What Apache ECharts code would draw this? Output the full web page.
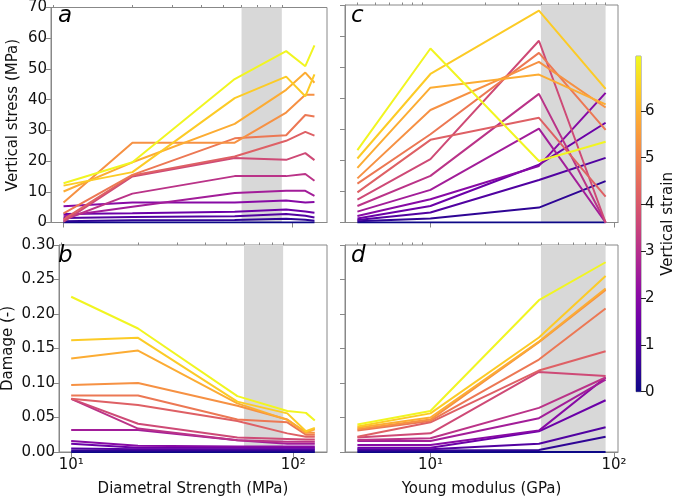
<!DOCTYPE html>
<html>
<head>
<meta charset="utf-8">
<script src="https://cdn.jsdelivr.net/npm/echarts@6/dist/echarts.min.js"></script>
<style>
  html, body { margin: 0; padding: 0; background: #fff; }
  #chart { width: 677px; height: 498px; }
</style>
</head>
<body>
<div id="chart"></div>
<script>
// strain level of each line (colour), lowest first
const strainLevels = [0.0, 0.45, 1.0, 1.45, 2.0, 2.55, 3.1, 3.65, 4.2, 4.75, 5.3, 5.85, 6.4, 7.1];

const strengthX = [10, 20, 56, 94, 114, 125];
const youngX = [4, 10, 39, 90];

// panel a: vertical stress vs diametral strength
const stressVsStrength = [
  [0, 0, 0, 0, 0, 0],
  [0.4, 0.7, 0.8, 1.2, 0.9, 0.6],
  [1.5, 1.8, 2.0, 2.8, 2.2, 1.6],
  [2.8, 3.0, 3.5, 4.2, 3.6, 3.2],
  [5.3, 6.5, 6.5, 7.2, 6.5, 6.7],
  [2.0, 5.1, 9.6, 10.3, 10.3, 8.7],
  [0.8, 9.4, 15.1, 15.1, 15.8, 13.6],
  [0.3, 15.0, 21.0, 20.4, 22.6, 20.3],
  [1.0, 15.3, 21.5, 26.6, 29.5, 28.3],
  [3.0, 15.5, 27.4, 28.4, 35.0, 34.5],
  [6.5, 26.0, 26.0, 35.8, 41.6, 41.6],
  [10.1, 19.6, 32.1, 43.2, 48.8, 45.5],
  [12.0, 16.4, 40.5, 47.5, 41.1, 48.2],
  [12.8, 19.6, 46.7, 55.8, 50.9, 57.7]
];
// panel b: damage vs diametral strength
const damageVsStrength = [
  [0, 0, 0, 0, 0, 0],
  [0.002, 0.002, 0.002, 0.002, 0.002, 0.002],
  [0.005, 0.004, 0.004, 0.004, 0.004, 0.004],
  [0.012, 0.006, 0.006, 0.006, 0.006, 0.006],
  [0.016, 0.009, 0.008, 0.008, 0.008, 0.008],
  [0.032, 0.032, 0.017, 0.012, 0.012, 0.012],
  [0.077, 0.034, 0.017, 0.015, 0.015, 0.015],
  [0.077, 0.041, 0.021, 0.019, 0.018, 0.018],
  [0.077, 0.068, 0.045, 0.027, 0.022, 0.022],
  [0.082, 0.082, 0.047, 0.043, 0.025, 0.025],
  [0.097, 0.1, 0.067, 0.047, 0.028, 0.028],
  [0.1355, 0.147, 0.0705, 0.0466, 0.028, 0.033],
  [0.162, 0.1655, 0.073, 0.056, 0.03, 0.035],
  [0.225, 0.179, 0.081, 0.0595, 0.0567, 0.0456]
];
// panel c: vertical stress vs Young modulus
const stressVsYoung = [
  [0, 0, 0, 0],
  [0.4, 1.3, 4.8, 13.3],
  [0.8, 3.2, 13.7, 20.8],
  [1.3, 5.3, 18.6, 32.1],
  [2.1, 7.5, 18.2, 41.7],
  [3.5, 10.5, 30.2, 0],
  [5.3, 15, 41.4, 0],
  [7.4, 20.4, 58.5, 0],
  [9.7, 26.6, 33.7, 8.3],
  [12.5, 28.4, 54.6, 29.8],
  [14.2, 36.2, 51.7, 37],
  [17.6, 43.4, 47.6, 38],
  [20.6, 47.8, 68.2, 43],
  [23.3, 56, 19.8, 26]
];
// panel d: damage vs Young modulus
const damageVsYoung = [
  [0, 0, 0, 0],
  [0.002, 0.002, 0.003, 0.022],
  [0.004, 0.004, 0.012, 0.036],
  [0.006, 0.006, 0.03, 0.075],
  [0.01, 0.01, 0.031, 0.108],
  [0.016, 0.016, 0.049, 0.105],
  [0.0175, 0.02, 0.064, 0.108],
  [0.021, 0.027, 0.116, 0.11],
  [0.022, 0.043, 0.118, 0.146],
  [0.031, 0.045, 0.134, 0.208],
  [0.033, 0.047, 0.159, 0.235],
  [0.035, 0.05, 0.16, 0.237],
  [0.037, 0.056, 0.166, 0.255],
  [0.0397, 0.0595, 0.22, 0.275]
];

const strengthBand = [60, 90];
const youngBand = [40, 90];
const stressTicks = [0, 70, 10];
const damageTicks = [0, 0.3, 0.05];
const strainMax = 7.17;
const strainTickLabels = [0, 1, 2, 3, 4, 5, 6];

// matplotlib plasma
const plasmaStops = ['#0d0887', '#41049d', '#6a00a8', '#8f0da4', '#b12a90', '#cc4778',
  '#e16462', '#f2844b', '#fca636', '#fcce25', '#f0f921'];

function hexToRgb(h) {
  return [parseInt(h.slice(1, 3), 16), parseInt(h.slice(3, 5), 16), parseInt(h.slice(5, 7), 16)];
}
function plasma(t) {
  t = Math.max(0, Math.min(1, t));
  const pos = t * (plasmaStops.length - 1);
  const i = Math.min(Math.floor(pos), plasmaStops.length - 2);
  const f = pos - i;
  const a = hexToRgb(plasmaStops[i]), b = hexToRgb(plasmaStops[i + 1]);
  const c = a.map((v, k) => Math.round(v + (b[k] - v) * f));
  return 'rgb(' + c.join(',') + ')';
}

function logRange(lo, hi) {
  const a = Math.log10(lo), b = Math.log10(hi), m = (b - a) * 0.05;
  return [Math.pow(10, a - m), Math.pow(10, b + m)];
}
const strengthRange = logRange(strengthX[0], strengthX[strengthX.length - 1]);
const youngRange = logRange(youngX[0], youngX[youngX.length - 1]);

const FONT = 'DejaVu Sans';
const spine = '#888';
const labelStyle = { color: '#111', fontSize: 15, fontFamily: FONT };

const PX_PER_STRAIN = 46.8;
const grids = [
  { left: 51, top: 5, width: 276, height: 217.5 },
  { left: 51, top: 245, width: 276, height: 217 },
  { left: 345, top: 5, width: 273, height: 217.5 },
  { left: 345, top: 245, width: 273, height: 217 },
  { left: 636, top: 391.7 - strainMax * PX_PER_STRAIN, width: 14, height: strainMax * PX_PER_STRAIN }
].map(g => Object.assign({ show: true, borderColor: spine, borderWidth: 1, backgroundColor: 'transparent', containLabel: false }, g));

function minorValues(range) {
  const out = [];
  for (let d = 1; d <= 100; d *= 10) {
    for (let k = 2; k <= 9; k++) {
      const v = k * d;
      if (v > range[0] && v < range[1]) out.push(v);
    }
  }
  return out;
}

function logAxis(gridIndex, range, showLabels, name) {
  return {
    type: 'log', logBase: 10, gridIndex, min: range[0], max: range[1],
    axisLine: { show: true, lineStyle: { color: spine } },
    axisTick: { show: true, length: 5, customValues: [10, 100], lineStyle: { color: spine } },
    axisLabel: {
      show: showLabels, customValues: [10, 100], margin: 6,
      formatter: v => (Math.round(Math.log10(v)) === 1 ? '10\u00b9' : '10\u00b2'),
      ...labelStyle
    },
    splitLine: { show: false },
    name: name || '', nameLocation: 'middle', nameGap: 30,
    nameTextStyle: { color: '#111', fontSize: 15, fontFamily: FONT }
  };
}
function minorAxis(gridIndex, range) {
  return {
    type: 'log', logBase: 10, gridIndex, min: range[0], max: range[1],
    axisLine: { show: false },
    axisTick: { show: true, length: 2.5, customValues: minorValues(range), lineStyle: { color: spine } },
    axisLabel: { show: false },
    splitLine: { show: false }
  };
}
function valueAxis(gridIndex, ticks, showLabels, name, digits) {
  return {
    type: 'value', gridIndex, min: ticks[0], max: ticks[1], interval: ticks[2],
    axisLine: { show: true, lineStyle: { color: spine } },
    axisTick: { show: true, length: 5, lineStyle: { color: spine } },
    axisLabel: { show: showLabels, margin: 4, formatter: v => v.toFixed(digits), ...labelStyle },
    splitLine: { show: false },
    name: name || '', nameLocation: 'middle', nameGap: digits ? 43 : 30, nameRotate: 90,
    nameTextStyle: { color: '#111', fontSize: 15, fontFamily: FONT }
  };
}

const xAxes = [
  logAxis(0, strengthRange, false),
  logAxis(1, strengthRange, true, 'Diametral Strength (MPa)'),
  logAxis(2, youngRange, false),
  logAxis(3, youngRange, true, 'Young modulus (GPa)'),
  minorAxis(0, strengthRange),
  minorAxis(1, strengthRange),
  minorAxis(2, youngRange),
  minorAxis(3, youngRange),
  { type: 'category', gridIndex: 4, data: ['strain'], show: false }
];
const yAxes = [
  valueAxis(0, stressTicks, true, 'Vertical stress (MPa)', 0),
  valueAxis(1, damageTicks, true, 'Damage (-)', 2),
  valueAxis(2, stressTicks, false, '', 0),
  valueAxis(3, damageTicks, false, '', 2),
  {
    type: 'value', gridIndex: 4, position: 'right', min: 0, max: strainMax,
    axisLine: { show: false },
    axisTick: { show: true, length: 5, customValues: strainTickLabels, lineStyle: { color: '#222' } },
    axisLabel: { margin: 4, customValues: strainTickLabels, ...labelStyle },
    splitLine: { show: false },
    name: 'Vertical strain', nameLocation: 'middle', nameGap: 20, nameRotate: 90,
    nameTextStyle: { color: '#111', fontSize: 15, fontFamily: FONT }
  }
];

const panels = [
  { axis: 0, xs: strengthX, table: stressVsStrength, band: strengthBand },
  { axis: 1, xs: strengthX, table: damageVsStrength, band: strengthBand },
  { axis: 2, xs: youngX, table: stressVsYoung, band: youngBand },
  { axis: 3, xs: youngX, table: damageVsYoung, band: youngBand }
];

const series = [];
panels.forEach(p => {
  series.push({
    type: 'line', xAxisIndex: p.axis, yAxisIndex: p.axis, data: [], z: 1,
    silent: true, symbol: 'none',
    markArea: {
      silent: true, itemStyle: { color: '#d8d8d8' },
      data: [[{ xAxis: p.band[0] }, { xAxis: p.band[1] }]]
    }
  });
  p.table.forEach((vals, i) => {
    series.push({
      type: 'line', xAxisIndex: p.axis, yAxisIndex: p.axis, z: 2 + i,
      showSymbol: false, symbol: 'none', silent: true,
      lineStyle: { width: 2, color: plasma(strainLevels[i] / strainMax) },
      data: p.xs.map((x, j) => [x, vals[j]])
    });
  });
});

// colour bar
series.push({
  type: 'bar', xAxisIndex: 8, yAxisIndex: 4, barWidth: '100%', silent: true,
  data: [strainMax],
  itemStyle: {
    color: new echarts.graphic.LinearGradient(0, 0, 0, 1,
      plasmaStops.map((c, k) => ({ offset: k / (plasmaStops.length - 1), color: plasmaStops[plasmaStops.length - 1 - k] })))
  }
});

const letters = [['a', 58, 5], ['b', 58, 245], ['c', 351, 5], ['d', 351, 245]];

const chart = echarts.init(document.getElementById('chart'), null, { renderer: 'canvas' });
chart.setOption({
  animation: false,
  backgroundColor: '#fff',
  grid: grids,
  xAxis: xAxes,
  yAxis: yAxes,
  series: series,
  graphic: letters.map(([t, x, y]) => ({
    type: 'text', left: x, top: y, z: 100,
    style: { text: t, font: 'italic 23px "DejaVu Sans"', fill: '#000' }
  }))
});
</script>
</body>
</html>
